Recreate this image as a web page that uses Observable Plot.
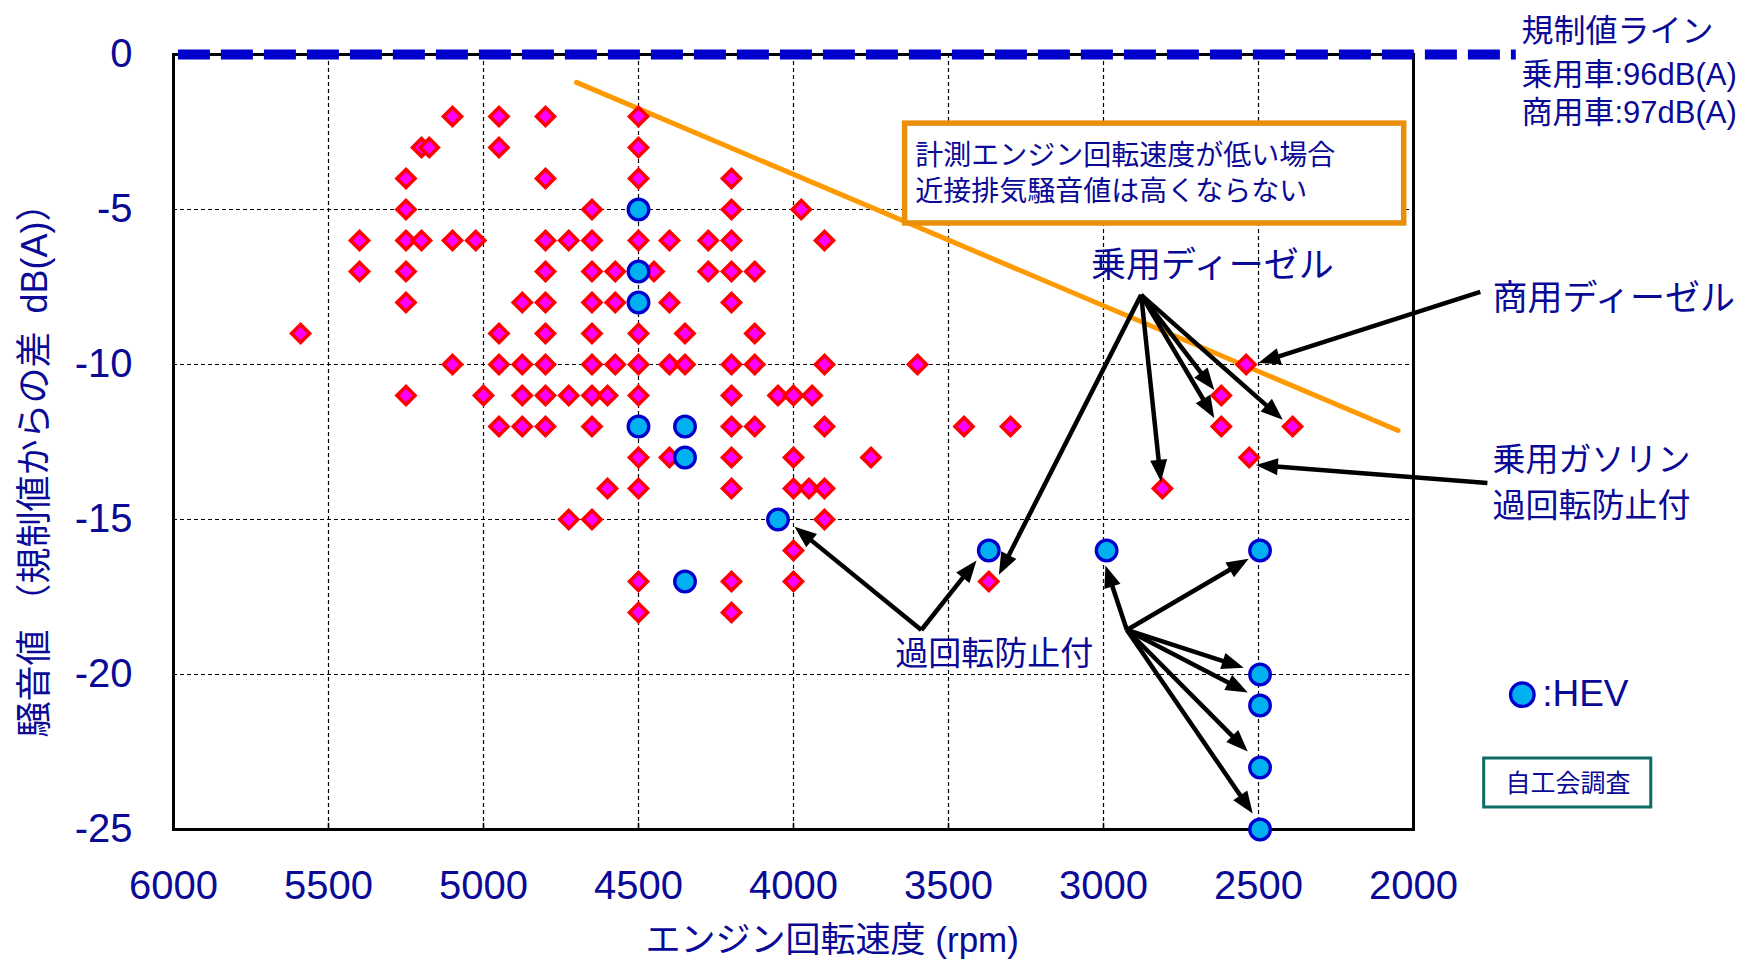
<!DOCTYPE html>
<html>
<head>
<meta charset="utf-8">
<script src="https://cdn.jsdelivr.net/npm/d3@7"></script>
<script src="https://cdn.jsdelivr.net/npm/@observablehq/plot@0.6"></script>
<style>
  html, body { margin: 0; padding: 0; background: white; }
  #chart svg { display: block; }
</style>
</head>
<body>
<div id="chart"></div>
<script>
// ---------- data ----------
const xTicks = [6000, 5500, 5000, 4500, 4000, 3500, 3000, 2500, 2000];
const yTicks = [0, -5, -10, -15, -20, -25];

// red diamonds (conventional vehicles): [rpm, dB diff]
const diamondRpm = [
  5100, 4950, 4800, 4500,
  5200, 5175, 4950, 4500,
  5250, 4800, 4500, 4200,
  5250, 4650, 4200, 3975,
  5400, 5250, 5200, 5100, 5025, 4800, 4725, 4650, 4500, 4400, 4275, 4200, 3900,
  5400, 5250, 4800, 4650, 4575, 4450, 4275, 4200, 4125,
  5250, 4875, 4800, 4650, 4575, 4400, 4200,
  5590, 4950, 4800, 4650, 4500, 4350, 4125,
  5100, 4950, 4875, 4800, 4650, 4575, 4500, 4400, 4350, 4200, 4125, 3900, 3600,
  5250, 5000, 4875, 4800, 4725, 4650, 4600, 4500, 4200, 4050, 4000, 3940,
  4950, 4875, 4800, 4650, 4200, 4125, 3900, 3450, 3300,
  4500, 4400, 4200, 4000, 3750,
  4600, 4500, 4200, 4000, 3950, 3900,
  4725, 4650, 3900,
  4000,
  4500, 4200, 4000, 3370,
  4500, 4200,
  2540, 2620, 2620, 2390, 2530, 2810
];
const diamondDb = [
  -2, -2, -2, -2,
  -3, -3, -3, -3,
  -4, -4, -4, -4,
  -5, -5, -5, -5,
  -6, -6, -6, -6, -6, -6, -6, -6, -6, -6, -6, -6, -6,
  -7, -7, -7, -7, -7, -7, -7, -7, -7,
  -8, -8, -8, -8, -8, -8, -8,
  -9, -9, -9, -9, -9, -9, -9,
  -10, -10, -10, -10, -10, -10, -10, -10, -10, -10, -10, -10, -10,
  -11, -11, -11, -11, -11, -11, -11, -11, -11, -11, -11, -11,
  -12, -12, -12, -12, -12, -12, -12, -12, -12,
  -13, -13, -13, -13, -13,
  -14, -14, -14, -14, -14, -14,
  -15, -15, -15,
  -16,
  -17, -17, -17, -17,
  -18, -18,
  -10, -11, -12, -12, -13, -14
];

// HEV (blue circles)
const hevRpm = [4500, 4500, 4500, 4500, 4350, 4350, 4050, 4350, 3370, 2990, 2495, 2495, 2495, 2495, 2495];
const hevDb  = [-5, -7, -8, -12, -12, -13, -15, -17, -16, -16, -16, -20, -21, -23, -25];

// regulation line (0 dB) and trend line
const regLineRpm = [6000, 1670];
const trendRpm = [4700, 2050];
const trendDb = [-0.9, -12.13];

// annotation arrows: origin -> tips
const arrowFromRpm = [2877, 2877, 2877, 2877, 2877, 1783, 1760, 3586, 3586, 2923, 2923, 2923, 2923, 2923, 2923];
const arrowFromDb  = [-7.77, -7.77, -7.77, -7.77, -7.77, -7.67, -13.84, -18.58, -18.58, -18.58, -18.58, -18.58, -18.58, -18.58, -18.58];
const arrowToRpm   = [3336, 2813, 2641, 2641, 2420, 2499, 2507, 3995, 3408, 2992, 2530, 2546, 2533, 2533, 2517];
const arrowToDb    = [-16.8, -13.8, -10.84, -11.74, -11.8, -9.97, -13.26, -15.25, -16.34, -16.5, -16.28, -19.8, -20.6, -22.5, -24.5];

// text labels
const labelText = ["規制値ライン", "乗用車:96dB(A)", "商用車:97dB(A)",
  "計測エンジン回転速度が低い場合", "近接排気騒音値は高くならない",
  "乗用ディーゼル", "商用ディーゼル", "乗用ガソリン", "過回転防止付", "過回転防止付", ":HEV"];
const labelRpm = [1652, 1652, 1652, 3607, 3607, 3040, 1745, 1745, 1745, 3672, 1585];
const labelDb  = [0.73, -0.65, -1.89, -3.26, -4.45, -6.81, -7.87, -13.1, -14.58, -19.35, -20.65];
const labelSize = [32, 31, 31, 28, 28, 35, 35, 33, 33, 33, 37];

const noteBox = {rpm1: 3640, rpm2: 2030, db1: -2.23, db2: -5.45};
const sourceBox = {rpm1: 1772, rpm2: 1233, db1: -22.71, db2: -24.29, text: "自工会調査", rpm: 1502, db: -23.52};
const hevLegend = {rpm: 1649, db: -20.65};

const xTitle = "エンジン回転速度 (rpm)";
const yTitle = "騒音値 （規制値からの差\u2002dB(A)）";

// ---------- build ----------
const navy = "#0a0a96";
const diamonds = diamondRpm.map((r, i) => ({rpm: r, db: diamondDb[i]}));
const hev = hevRpm.map((r, i) => ({rpm: r, db: hevDb[i]}));
const arrows = arrowFromRpm.map((r, i) => ({x1: r, y1: arrowFromDb[i], x2: arrowToRpm[i], y2: arrowToDb[i]}));
const labels = labelText.map((t, i) => ({text: t, rpm: labelRpm[i], db: labelDb[i], size: labelSize[i]}));

function arrowHeads(index, scales) {
  const g = d3.create("svg:g").attr("fill", "black").attr("stroke", "black");
  for (const a of arrows) {
    const x1 = scales.x(a.x1), y1 = scales.y(a.y1), x2 = scales.x(a.x2), y2 = scales.y(a.y2);
    const dx = x2 - x1, dy = y2 - y1, L = Math.hypot(dx, dy), ux = dx / L, uy = dy / L;
    const hl = 22, hw = 8.5;
    const bx = x2 - ux * hl, by = y2 - uy * hl;
    g.append("line").attr("x1", x1).attr("y1", y1).attr("x2", bx + ux * 2).attr("y2", by + uy * 2)
      .attr("stroke-width", 4.5);
    g.append("path").attr("stroke", "none")
      .attr("d", `M${x2},${y2}L${bx - uy * hw},${by + ux * hw}L${bx + uy * hw},${by - ux * hw}Z`);
  }
  return g.node();
}

function build(useCustomArrows) {
  const marks = [
    Plot.gridX({ticks: xTicks.slice(1, -1), stroke: "black", strokeOpacity: 1, strokeWidth: 1.2, strokeDasharray: "4,3"}),
    Plot.gridY({ticks: yTicks.slice(1, -1), stroke: "black", strokeOpacity: 1, strokeWidth: 1.2, strokeDasharray: "4,3"}),
    Plot.ruleX(xTicks.slice(1, -1), {x: d => d, y1: -25, y2: -24.8, stroke: "black", strokeWidth: 1.5}),
    Plot.line(trendRpm.map((r, i) => ({rpm: r, db: trendDb[i]})), {x: "rpm", y: "db", stroke: "#FF9900", strokeWidth: 5}),
    Plot.rect([noteBox], {x1: "rpm1", x2: "rpm2", y1: "db1", y2: "db2", fill: "white", stroke: "#E8900C", strokeWidth: 5.5}),
    Plot.frame({stroke: "black", strokeWidth: 3}),
    Plot.line(regLineRpm.map(r => ({rpm: r, db: 0})), {x: "rpm", y: "db", stroke: "#0000CC", strokeWidth: 10,
      strokeDasharray: "32,11", strokeDashoffset: 38.6, strokeLinecap: "butt"}),
    Plot.dot(diamonds, {x: "rpm", y: "db", symbol: "diamond2", r: 8.1, fill: "#FF00FF", stroke: "#FF0000", strokeWidth: 3.6}),
    Plot.dot(hev, {x: "rpm", y: "db", r: 10.3, fill: "#00B0F0", stroke: "#0000CC", strokeWidth: 3.3}),
    Plot.dot([hevLegend], {x: "rpm", y: "db", r: 11.8, fill: "#00B0F0", stroke: "#0000CC", strokeWidth: 3.3}),
    Plot.rect([sourceBox], {x1: "rpm1", x2: "rpm2", y1: "db1", y2: "db2", fill: "white", stroke: "#0E6B66", strokeWidth: 3}),
    Plot.text([sourceBox], {x: "rpm", y: "db", text: "text", fill: navy, fontSize: 25, textAnchor: "middle", lineAnchor: "middle"}),
    Plot.text(labels, {x: "rpm", y: "db", text: "text", fill: navy, fontSize: d => d.size, textAnchor: "start", lineAnchor: "middle"}),
    Plot.text([xTitle], {x: 3875, y: -28.58, text: d => d, fill: navy, fontSize: 35, textAnchor: "middle", lineAnchor: "middle"}),
    Plot.text([yTitle], {x: 6446, y: -13.13, text: d => d, fill: navy, fontSize: 36, rotate: -90, textAnchor: "middle", lineAnchor: "middle"}),
    Plot.axisX({ticks: xTicks, tickFormat: d => String(d), tickSize: 0, tickPadding: 41, fontSize: 40, fill: navy}),
    Plot.axisY({ticks: yTicks, tickFormat: d => String(d), tickSize: 0, tickPadding: 41, fontSize: 40, fill: navy})
  ];
  if (useCustomArrows) marks.push(arrowHeads);
  else marks.push(Plot.arrow(arrows, {x1: "x1", y1: "y1", x2: "x2", y2: "y2", stroke: "black", strokeWidth: 4.5, headLength: 20, headAngle: 50}));
  return Plot.plot({
    width: 1758, height: 966,
    marginLeft: 173, marginRight: 345, marginTop: 54, marginBottom: 137,
    style: {fontFamily: "'Liberation Sans', 'Noto Sans CJK JP', sans-serif", background: "white"},
    x: {domain: [6000, 2000]},
    y: {domain: [-25, 0]},
    marks
  });
}

let chart;
try { chart = build(true); } catch (e) { console.error(e); chart = build(false); }
document.getElementById("chart").append(chart);
</script>
</body>
</html>
